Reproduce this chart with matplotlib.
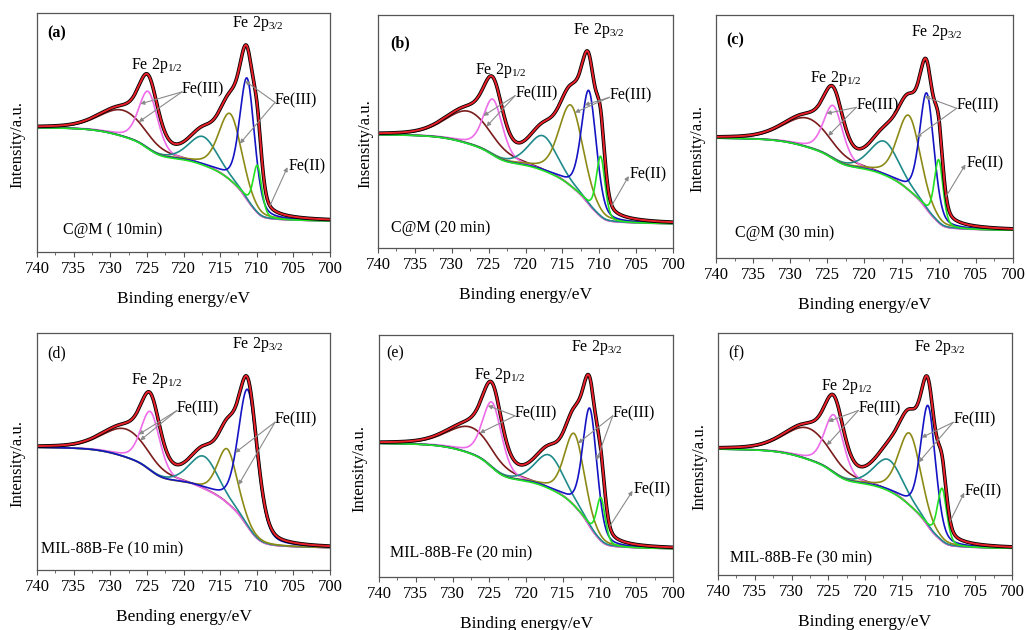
import matplotlib
matplotlib.use("Agg")
import matplotlib.pyplot as plt
import numpy as np

plt.rcParams['font.family'] = ['Liberation Serif', 'DejaVu Serif']
plt.rcParams['mathtext.fontset'] = 'custom'
plt.rcParams['mathtext.rm'] = 'Liberation Serif'
plt.rcParams['mathtext.default'] = 'regular'

# ---- data (intensity in axes units 0..1) ----
panel_tags = ['(a)', '(b)', '(c)', '(d)', '(e)', '(f)']
sample_names = ['C@M ( 10min)', 'C@M (20 min)', 'C@M (30 min)',
                'MIL-88B-Fe (10 min)', 'MIL-88B-Fe (20 min)', 'MIL-88B-Fe (30 min)']
y_labels = ['Intensity/a.u.', 'Insensity/a.u.', 'Intensity/a.u.',
            'Intensity/a.u.', 'Intensity/a.u.', 'Intensity/a.u.']
x_labels = ['Binding energy/eV', 'Binding energy/eV', 'Binding energy/eV',
            'Bending energy/eV', 'Binding energy/eV', 'Binding energy/eV']
x_ticks = [740, 735, 730, 725, 720, 715, 710, 705, 700]

# components: satellite, Fe(III) 2p1/2, satellite, Fe(III), Fe(III) 2p3/2, Fe(II)
peak_centers = [
    [728.2, 724.8, 717.3, 713.6, 711.3, 709.9],
    [727.6, 724.4, 717.6, 713.8, 711.4, 709.8],
    [727.6, 724.2, 717.3, 714.0, 711.6, 710.0],
    [727.8, 724.5, 717.2, 714.0, 711.2, 709.8],
    [727.4, 724.6, 716.8, 713.4, 711.3, 709.8],
    [727.7, 724.2, 716.8, 713.9, 711.4, 709.5],
]
peak_heights = [
    [0.11, 0.24, 0.12, 0.28, 0.51, 0.20],
    [0.14, 0.24, 0.15, 0.35, 0.49, 0.26],
    [0.12, 0.22, 0.14, 0.31, 0.48, 0.26],
    [0.12, 0.25, 0.14, 0.23, 0.58, 0.00],
    [0.11, 0.27, 0.14, 0.30, 0.49, 0.18],
    [0.13, 0.24, 0.13, 0.30, 0.50, 0.22],
]
peak_fwhm = [
    [7.5, 3.1, 4.6, 3.7, 2.4, 1.4],
    [7.5, 3.1, 4.6, 3.9, 2.4, 1.4],
    [7.5, 3.1, 4.6, 3.7, 2.3, 1.4],
    [7.5, 3.1, 4.6, 3.2, 3.1, 1.4],
    [7.5, 3.1, 4.6, 3.2, 2.3, 1.4],
    [7.5, 3.1, 4.6, 3.6, 2.4, 1.5],
]
bg_high = [0.52, 0.486, 0.493, 0.517, 0.552, 0.52]
bg_low = [0.13, 0.104, 0.114, 0.094, 0.117, 0.11]

comp_colors = ['#7a1c1c', '#ee6cea', '#1f8a8a', '#8c8a16', '#1414c4', '#22e022']

# ---- layout (pixels: left, right, top, bottom) ----
boxes = [(37, 330, 13, 252), (378, 673, 15, 248), (716, 1013, 15, 258),
         (37, 330, 333, 570), (379, 673, 335, 577), (718, 1012, 333, 575)]
ylabel_x = [-0.041, -0.017, -0.037, -0.041, -0.041, -0.037]

# annotation placement: tag pos, 2p1/2 label, 2p3/2 label, left Fe(III), right Fe(III), Fe(II)
tag_pos = [(738.6, 0.915), (738.3, 0.88), (738.6, 0.897), (738.6, 0.915), (739.0, 0.924), (738.6, 0.917)]
name_pos = [(736.4, 0.09), (738.3, 0.086), (737.4, 0.103), (739.5, 0.085), (738.5, 0.097), (738.4, 0.069)]
p12_pos = [(723.6, 0.78), (723.4, 0.76), (723.8, 0.74), (723.6, 0.80), (723.6, 0.834), (722.5, 0.78)]
p32_pos = [(709.8, 0.955), (710.1, 0.935), (710.3, 0.93), (709.8, 0.952), (710.4, 0.948), (709.8, 0.94)]
feIII_left = [(720.2, 0.68), (721.4, 0.664), (721.1, 0.63), (720.9, 0.683), (721.5, 0.676), (720.9, 0.69)]
feIII_left_x = [(725.9, 726.1), (725.7, 725.3), (725.1, 724.9), (726.1, 725.9), (725.2, 726.3), (725.0, 725.2)]
feIII_right = [(707.5, 0.636), (708.6, 0.657), (707.6, 0.626), (707.5, 0.634), (708.2, 0.676), (708.0, 0.641)]
feIII_right_x = [(711.6, 712.3), (712.0, 713.3), (711.9, 713.0), (712.95, 712.5), (710.4, 712.9), (712.3, 712.7)]
feII_pos = [(705.7, 0.36), (705.9, 0.314), (706.3, 0.39), None, (705.4, 0.361), (706.4, 0.345)]
feII_x = [708.2, 708.3, 709.0, None, 708.6, 708.4]

x = np.linspace(700, 740, 1601)


def pvoigt(xx, c, h, w, eta=0.35):
    r = (xx - c) / w
    return h * ((1 - eta) * np.exp(-4 * np.log(2) * r ** 2) + eta / (1 + 4 * r ** 2))


fig = plt.figure(figsize=(10.27, 6.3), dpi=100)
W, H = 1027, 630

for i in range(6):
    l, r, t, b = boxes[i]
    ax = fig.add_axes([l / W, 1 - b / H, (r - l) / W, (b - t) / H])
    comps = [pvoigt(x, c, h, w) for c, h, w in zip(peak_centers[i], peak_heights[i], peak_fwhm[i])]
    total = np.sum(comps, axis=0)
    # Shirley type background
    cum = np.concatenate([[0], np.cumsum((total[1:] + total[:-1]) / 2 * np.diff(x))])
    bg = bg_low[i] + (bg_high[i] - bg_low[i]) * cum / cum[-1]
    env = bg + total

    for k, comp in enumerate(comps):
        if peak_heights[i][k] == 0:
            continue
        ax.plot(x, bg + comp, color=comp_colors[k], lw=1.2)
    ax.plot(x, env, color='black', lw=2.6)
    ax.plot(x, env, color='#e8202a', lw=1.4)

    def on_curve(k, xv):
        return np.interp(xv, x, bg + comps[k])

    arrow_kw = dict(arrowstyle='-|>', color='#8a8a8a', lw=0.8,
                    mutation_scale=6, shrinkA=0, shrinkB=0)
    fs = 11.5
    ax.text(tag_pos[i][0], tag_pos[i][1], panel_tags[i], fontsize=11.5,
            fontweight='bold' if i < 3 else 'normal', va='center', ha='left')
    ax.text(name_pos[i][0], name_pos[i][1], sample_names[i], fontsize=fs, va='center', ha='left')
    ax.text(p12_pos[i][0], p12_pos[i][1], 'Fe 2p$_{1/2}$', fontsize=fs, va='center', ha='center')
    ax.text(p32_pos[i][0], p32_pos[i][1], 'Fe 2p$_{3/2}$', fontsize=fs, va='center', ha='center')

    tx, ty = feIII_left[i]
    ax.text(tx, ty, 'Fe(III)', fontsize=fs, va='center', ha='left')
    for k, xv in zip([1, 0], feIII_left_x[i]):
        ax.annotate('', xy=(xv, on_curve(k, xv)), xytext=(tx, ty - 0.01), arrowprops=arrow_kw)

    tx, ty = feIII_right[i]
    ax.text(tx, ty, 'Fe(III)', fontsize=fs, va='center', ha='left')
    for k, xv in zip([4, 3], feIII_right_x[i]):
        ax.annotate('', xy=(xv, on_curve(k, xv)), xytext=(tx, ty - 0.01), arrowprops=arrow_kw)

    if feII_pos[i] is not None:
        tx, ty = feII_pos[i]
        ax.text(tx, ty, 'Fe(II)', fontsize=fs, va='center', ha='left')
        xv = feII_x[i]
        ax.annotate('', xy=(tx + 0.1, ty - 0.005), xytext=(xv, np.interp(xv, x, env)),
                    arrowprops=arrow_kw)

    ax.set_xlim(740, 700)
    ax.set_ylim(0, 1)
    ax.set_xticks(x_ticks)
    ax.set_xticks(np.arange(700, 741, 2.5), minor=True)
    ax.set_yticks([])
    ax.tick_params(axis='x', which='major', direction='out', length=3.5, width=0.8,
                   color='#555555', labelsize=12, pad=3)
    ax.tick_params(axis='x', which='minor', direction='out', length=2, width=0.6, color='#555555')
    for s in ax.spines.values():
        s.set_color('#555555')
        s.set_linewidth(0.9)
    ax.set_xlabel(x_labels[i], fontsize=12.5, labelpad=10)
    ax.set_ylabel(y_labels[i], fontsize=12)
    ax.yaxis.set_label_coords(ylabel_x[i], 0.45)

fig.savefig('out.png', dpi=100)
